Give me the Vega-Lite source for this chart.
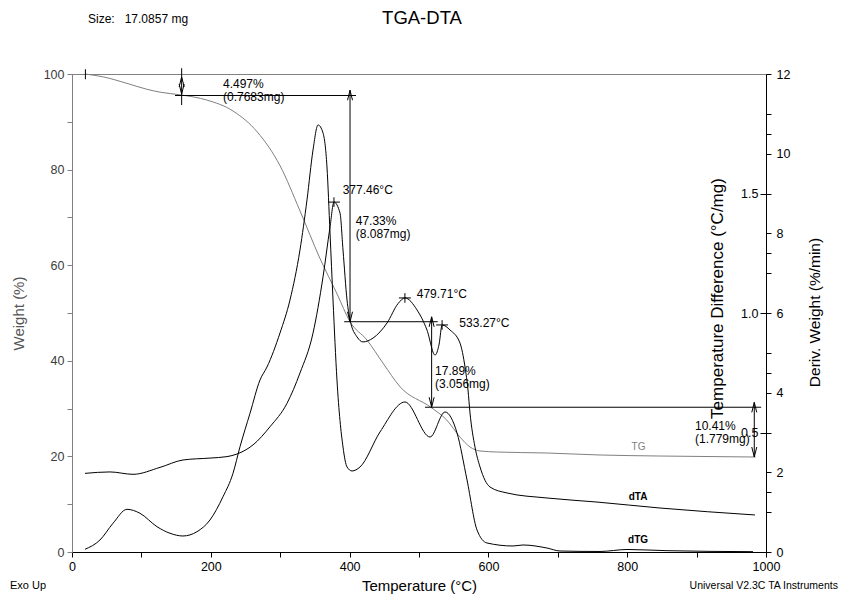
{
  "$schema": "https://vega.github.io/schema/vega-lite/v6.json",
  "width": 694,
  "height": 478,
  "autosize": {"type": "none"},
  "padding": {"left": 72, "top": 74, "right": 75, "bottom": 44},
  "background": "white",
  "config": {"view": {"stroke": "#808080", "strokeWidth": 1}, "font": "Liberation Sans"},
  "datasets": {
    "tg": [
      {"T": 18.7, "w": 100}, {"T": 45, "w": 99.4}, {"T": 79, "w": 98.05}, {"T": 108, "w": 96.8},
      {"T": 127, "w": 96.2}, {"T": 158, "w": 95.6}, {"T": 194, "w": 94.56}, {"T": 232, "w": 92.26},
      {"T": 267, "w": 87.87}, {"T": 300, "w": 80.75}, {"T": 328, "w": 71.55}, {"T": 357, "w": 61.51},
      {"T": 382, "w": 53.97}, {"T": 400.6, "w": 48.17}, {"T": 425, "w": 44.35}, {"T": 448, "w": 39.54},
      {"T": 473, "w": 34.52}, {"T": 517, "w": 30.28}, {"T": 540, "w": 27.6}, {"T": 559, "w": 24.06},
      {"T": 573.5, "w": 21.97}, {"T": 588, "w": 21.13}, {"T": 612, "w": 20.92}, {"T": 684, "w": 20.71},
      {"T": 761, "w": 20.29}, {"T": 847, "w": 20.08}, {"T": 985, "w": 19.87}
    ],
    "dta": [
      {"T": 18.7, "d": 0.329}, {"T": 54.8, "d": 0.335}, {"T": 87.9, "d": 0.325}, {"T": 126.8, "d": 0.354},
      {"T": 159.9, "d": 0.385}, {"T": 198.8, "d": 0.393}, {"T": 223.3, "d": 0.399}, {"T": 237.8, "d": 0.41},
      {"T": 260.8, "d": 0.448}, {"T": 285.3, "d": 0.524}, {"T": 309.8, "d": 0.622}, {"T": 328.5, "d": 0.749},
      {"T": 347.3, "d": 0.916}, {"T": 361.7, "d": 1.151}, {"T": 371.8, "d": 1.36}, {"T": 377.46, "d": 1.464},
      {"T": 386.2, "d": 1.418}, {"T": 390.5, "d": 1.264}, {"T": 396.3, "d": 1.054}, {"T": 400.6, "d": 0.971},
      {"T": 410.7, "d": 0.9}, {"T": 419.3, "d": 0.879}, {"T": 433.7, "d": 0.895}, {"T": 453.9, "d": 0.958},
      {"T": 470, "d": 1.04}, {"T": 479.71, "d": 1.063}, {"T": 497.1, "d": 1.013}, {"T": 511.5, "d": 0.929},
      {"T": 523.1, "d": 0.824}, {"T": 529, "d": 0.87}, {"T": 533.27, "d": 0.95}, {"T": 544.7, "d": 0.929},
      {"T": 559.1, "d": 0.874}, {"T": 566.3, "d": 0.774}, {"T": 570.6, "d": 0.678}, {"T": 573.5, "d": 0.582},
      {"T": 580.7, "d": 0.439}, {"T": 587.9, "d": 0.356}, {"T": 602.3, "d": 0.272}, {"T": 626.8, "d": 0.247},
      {"T": 684.4, "d": 0.226}, {"T": 756.5, "d": 0.209}, {"T": 847.3, "d": 0.184}, {"T": 984.1, "d": 0.155}
    ],
    "dtg": [
      {"T": 18.7, "g": 0.068}, {"T": 40.3, "g": 0.301}, {"T": 59.1, "g": 0.721}, {"T": 79.3, "g": 1.072},
      {"T": 98, "g": 0.972}, {"T": 122.5, "g": 0.635}, {"T": 141.2, "g": 0.47}, {"T": 159.9, "g": 0.402},
      {"T": 180.1, "g": 0.51}, {"T": 198.8, "g": 0.803}, {"T": 217.6, "g": 1.388}, {"T": 232, "g": 1.976},
      {"T": 242.1, "g": 2.644}, {"T": 256.5, "g": 3.482}, {"T": 270.9, "g": 4.318}, {"T": 281, "g": 4.645},
      {"T": 299.7, "g": 5.498}, {"T": 314.1, "g": 6.327}, {"T": 328.5, "g": 7.582}, {"T": 338.6, "g": 8.838},
      {"T": 347.3, "g": 10.093}, {"T": 354.5, "g": 10.721}, {"T": 361.7, "g": 10.52}, {"T": 367.4, "g": 9.666},
      {"T": 371.8, "g": 8.009}, {"T": 376.1, "g": 6.327}, {"T": 381.8, "g": 4.318}, {"T": 390.5, "g": 2.636},
      {"T": 396.3, "g": 2.134}, {"T": 403.5, "g": 2.034}, {"T": 415, "g": 2.134}, {"T": 443.8, "g": 3.013},
      {"T": 479.8, "g": 3.766}, {"T": 515.9, "g": 2.887}, {"T": 537.5, "g": 3.515}, {"T": 554.8, "g": 2.988},
      {"T": 569.2, "g": 1.808}, {"T": 583.6, "g": 0.552}, {"T": 598, "g": 0.226}, {"T": 635.4, "g": 0.151},
      {"T": 649.9, "g": 0.176}, {"T": 684.4, "g": 0.1}, {"T": 703.2, "g": 0.025}, {"T": 760.8, "g": 0.013},
      {"T": 799.7, "g": 0.063}, {"T": 857.3, "g": 0.033}, {"T": 981.3, "g": 0.008}
    ],
    "rules": [
      {"T": 19.3, "w": 101.0, "T2": 19.3, "w2": 98.9},
      {"T": 158, "w": 101.2, "T2": 158, "w2": 93.5},
      {"T": 148.4, "w": 95.503, "T2": 409.2, "w2": 95.503},
      {"T": 400.6, "w": 96.6, "T2": 400.6, "w2": 48.173},
      {"T": 392.2, "w": 48.173, "T2": 527, "w2": 48.173},
      {"T": 518.2, "w": 49.2, "T2": 518.2, "w2": 30.283},
      {"T": 508.6, "w": 30.283, "T2": 993, "w2": 30.283},
      {"T": 983.1, "w": 31.3, "T2": 983.1, "w2": 19.874}
    ],
    "up": [
      {"T": 158, "w": 99.4}, {"T": 400.6, "w": 96.6}, {"T": 518.2, "w": 49.2}, {"T": 983.1, "w": 31.3}
    ],
    "down": [
      {"T": 158, "w": 95.8}, {"T": 400.6, "w": 48.173}, {"T": 518.2, "w": 30.283}, {"T": 983.1, "w": 19.874}
    ],
    "notes": [
      {"T": 217.6, "w": 97.0, "text": "4.497%"},
      {"T": 217.6, "w": 94.35, "text": "(0.7683mg)"},
      {"T": 408.8, "w": 68.4, "text": "47.33%"},
      {"T": 408.8, "w": 65.6, "text": "(8.087mg)"},
      {"T": 523.1, "w": 37.0, "text": "17.89%"},
      {"T": 523.1, "w": 34.3, "text": "(3.056mg)"},
      {"T": 897.7, "w": 25.5, "text": "10.41%"},
      {"T": 897.7, "w": 22.7, "text": "(1.779mg)"},
      {"T": 390, "w": 75.0, "text": "377.46°C"},
      {"T": 496.7, "w": 53.1, "text": "479.71°C"},
      {"T": 558.1, "w": 47.0, "text": "533.27°C"}
    ],
    "peaks": [
      {"T": 377.46, "d": 1.464}, {"T": 479.71, "d": 1.063}, {"T": 533.27, "d": 0.95}
    ]
  },
  "layer": [
    {
      "data": {"name": "tg"},
      "mark": {"type": "line", "color": "#808080", "strokeWidth": 1, "interpolate": "monotone"},
      "encoding": {
        "x": {"field": "T", "type": "quantitative", "scale": {"domain": [0, 1000], "nice": false},
          "axis": {"orient": "bottom", "values": [0, 100, 200, 300, 400, 500, 600, 700, 800, 900, 1000],
            "labelExpr": "datum.value % 200 == 0 ? datum.label : ''", "format": "d",
            "title": "Temperature (°C)", "grid": false, "tickSize": 5, "labelPadding": 3,
            "labelFontSize": 12.5, "labelFont": "Liberation Sans", "labelColor": "black",
            "labelFlush": false, "labelOverlap": false,
            "domainColor": "black", "tickColor": "black",
            "titleFontSize": 15, "titleFontWeight": "normal", "titleFont": "Liberation Sans", "titleColor": "black",
            "titlePadding": 6}},
        "y": {"field": "w", "type": "quantitative", "scale": {"domain": [0, 100], "nice": false},
          "axis": {"orient": "left", "values": [0, 10, 20, 30, 40, 50, 60, 70, 80, 90, 100],
            "labelExpr": "datum.value % 20 == 0 ? datum.label : ''", "format": "d",
            "title": "Weight (%)", "grid": false, "tickSize": 5, "labelPadding": 3,
            "labelFontSize": 12.5, "labelFont": "Liberation Sans", "labelColor": "#3c3c3c",
            "labelFlush": false, "labelOverlap": false,
            "domainColor": "#808080", "tickColor": "#808080",
            "titleFontSize": 15, "titleFontWeight": "normal", "titleFont": "Liberation Sans", "titleColor": "#555555",
            "titleX": -54, "titleY": 239, "titleBaseline": "middle", "titleAngle": -90}}
      }
    },
    {
      "data": {"name": "dta"},
      "mark": {"type": "line", "color": "black", "strokeWidth": 1, "interpolate": "monotone"},
      "encoding": {
        "x": {"field": "T", "type": "quantitative", "scale": {"domain": [0, 1000], "nice": false}, "axis": null},
        "y": {"field": "d", "type": "quantitative", "scale": {"domain": [0, 2], "nice": false},
          "axis": {"orient": "left", "offset": -694, "values": [0.5, 1, 1.5], "format": ".1f",
            "domain": false, "grid": false, "tickSize": 6, "labelPadding": 2, "tickColor": "black",
            "labelFontSize": 12.5, "labelFont": "Liberation Sans", "labelColor": "black",
            "labelFlush": false, "labelOverlap": false,
            "title": "Temperature Difference (°C/mg)", "titleFontSize": 17, "titleFontWeight": "normal",
            "titleFont": "Liberation Sans", "titleColor": "black",
            "titleX": -49, "titleY": 224, "titleBaseline": "middle", "titleAngle": -90}}
      }
    },
    {
      "data": {"name": "dtg"},
      "mark": {"type": "line", "color": "black", "strokeWidth": 1, "interpolate": "monotone"},
      "encoding": {
        "x": {"field": "T", "type": "quantitative", "scale": {"domain": [0, 1000], "nice": false}, "axis": null},
        "y": {"field": "g", "type": "quantitative", "scale": {"domain": [0, 12], "nice": false},
          "axis": {"orient": "right", "values": [0, 1, 1.5, 2, 3, 4, 4.5, 5, 6, 7, 7.5, 8, 9, 10, 10.5, 11, 12],
            "labelExpr": "datum.value % 2 == 0 ? datum.label : ''", "format": "~g",
            "grid": false, "tickSize": 5, "labelPadding": 5, "domainColor": "black", "tickColor": "black",
            "labelFontSize": 12.5, "labelFont": "Liberation Sans", "labelColor": "black",
            "labelFlush": false, "labelOverlap": false,
            "title": "Deriv. Weight (%/min)", "titleFontSize": 15.5, "titleFontWeight": "normal",
            "titleFont": "Liberation Sans", "titleColor": "black",
            "titleX": 48, "titleY": 238, "titleBaseline": "middle", "titleAngle": -90}}
      }
    },
    {
      "data": {"name": "peaks"},
      "mark": {"type": "point", "shape": "M-1,0L1,0M0,-0.8L0,0.8", "size": 144, "filled": false, "color": "black", "strokeWidth": 1, "opacity": 1},
      "encoding": {
        "x": {"field": "T", "type": "quantitative", "scale": {"domain": [0, 1000], "nice": false}, "axis": null},
        "y": {"field": "d", "type": "quantitative", "scale": {"domain": [0, 2], "nice": false}, "axis": null}
      }
    },
    {
      "data": {"name": "rules"},
      "mark": {"type": "rule", "color": "black", "strokeWidth": 1},
      "encoding": {
        "x": {"field": "T", "type": "quantitative", "scale": {"domain": [0, 1000], "nice": false}, "axis": null},
        "y": {"field": "w", "type": "quantitative", "scale": {"domain": [0, 100], "nice": false}, "axis": null},
        "x2": {"field": "T2"},
        "y2": {"field": "w2"}
      }
    },
    {
      "data": {"name": "up"},
      "mark": {"type": "point", "shape": "M-0.5,2L0,0L0.5,2", "size": 100, "filled": false, "color": "black", "strokeWidth": 1, "opacity": 1},
      "encoding": {
        "x": {"field": "T", "type": "quantitative", "scale": {"domain": [0, 1000], "nice": false}, "axis": null},
        "y": {"field": "w", "type": "quantitative", "scale": {"domain": [0, 100], "nice": false}, "axis": null}
      }
    },
    {
      "data": {"name": "down"},
      "mark": {"type": "point", "shape": "M-0.5,-2L0,0L0.5,-2", "size": 100, "filled": false, "color": "black", "strokeWidth": 1, "opacity": 1},
      "encoding": {
        "x": {"field": "T", "type": "quantitative", "scale": {"domain": [0, 1000], "nice": false}, "axis": null},
        "y": {"field": "w", "type": "quantitative", "scale": {"domain": [0, 100], "nice": false}, "axis": null}
      }
    },
    {
      "data": {"name": "notes"},
      "mark": {"type": "text", "align": "left", "baseline": "alphabetic", "fontSize": 12, "font": "Liberation Sans", "color": "black"},
      "encoding": {
        "x": {"field": "T", "type": "quantitative", "scale": {"domain": [0, 1000], "nice": false}, "axis": null},
        "y": {"field": "w", "type": "quantitative", "scale": {"domain": [0, 100], "nice": false}, "axis": null},
        "text": {"field": "text"}
      }
    },
    {
      "data": {"values": [{"T": 816.3, "w": 22.03, "text": "TG"}]},
      "mark": {"type": "text", "align": "center", "baseline": "middle", "fontSize": 10, "font": "Liberation Sans", "color": "#808080"},
      "encoding": {
        "x": {"field": "T", "type": "quantitative", "scale": {"domain": [0, 1000], "nice": false}, "axis": null},
        "y": {"field": "w", "type": "quantitative", "scale": {"domain": [0, 100], "nice": false}, "axis": null},
        "text": {"field": "text"}
      }
    },
    {
      "data": {"values": [{"T": 815.6, "w": 11.61, "text": "dTA"}, {"T": 815.6, "w": 2.41, "text": "dTG"}]},
      "mark": {"type": "text", "align": "center", "baseline": "middle", "fontSize": 10, "fontWeight": "bold", "font": "Liberation Sans", "color": "black"},
      "encoding": {
        "x": {"field": "T", "type": "quantitative", "scale": {"domain": [0, 1000], "nice": false}, "axis": null},
        "y": {"field": "w", "type": "quantitative", "scale": {"domain": [0, 100], "nice": false}, "axis": null},
        "text": {"field": "text"}
      }
    },
    {
      "data": {"values": [{"T": 23.05, "w": 110.67, "text": "Size:\u00a0\u00a0\u00a017.0857 mg"}]},
      "mark": {"type": "text", "align": "left", "baseline": "alphabetic", "fontSize": 12, "font": "Liberation Sans", "color": "black"},
      "encoding": {
        "x": {"field": "T", "type": "quantitative", "scale": {"domain": [0, 1000], "nice": false}, "axis": null},
        "y": {"field": "w", "type": "quantitative", "scale": {"domain": [0, 100], "nice": false}, "axis": null},
        "text": {"field": "text"}
      }
    },
    {
      "data": {"values": [{"T": -89.3, "w": -7.74, "text": "Exo Up"}]},
      "mark": {"type": "text", "align": "left", "baseline": "alphabetic", "fontSize": 11, "font": "Liberation Sans", "color": "black"},
      "encoding": {
        "x": {"field": "T", "type": "quantitative", "scale": {"domain": [0, 1000], "nice": false}, "axis": null},
        "y": {"field": "w", "type": "quantitative", "scale": {"domain": [0, 100], "nice": false}, "axis": null},
        "text": {"field": "text"}
      }
    },
    {
      "data": {"values": [{"T": 504.3, "w": 110.46, "text": "TGA-DTA"}]},
      "mark": {"type": "text", "align": "center", "baseline": "alphabetic", "fontSize": 18.5, "font": "Liberation Sans", "color": "black"},
      "encoding": {
        "x": {"field": "T", "type": "quantitative", "scale": {"domain": [0, 1000], "nice": false}, "axis": null},
        "y": {"field": "w", "type": "quantitative", "scale": {"domain": [0, 100], "nice": false}, "axis": null},
        "text": {"field": "text"}
      }
    },
    {
      "data": {"values": [{"T": 1103.7, "w": -7.74, "text": "Universal V2.3C TA Instruments"}]},
      "mark": {"type": "text", "align": "right", "baseline": "alphabetic", "fontSize": 10.5, "font": "Liberation Sans", "color": "black"},
      "encoding": {
        "x": {"field": "T", "type": "quantitative", "scale": {"domain": [0, 1000], "nice": false}, "axis": null},
        "y": {"field": "w", "type": "quantitative", "scale": {"domain": [0, 100], "nice": false}, "axis": null},
        "text": {"field": "text"}
      }
    }
  ],
  "resolve": {"scale": {"y": "independent"}, "axis": {"x": "independent"}}
}
